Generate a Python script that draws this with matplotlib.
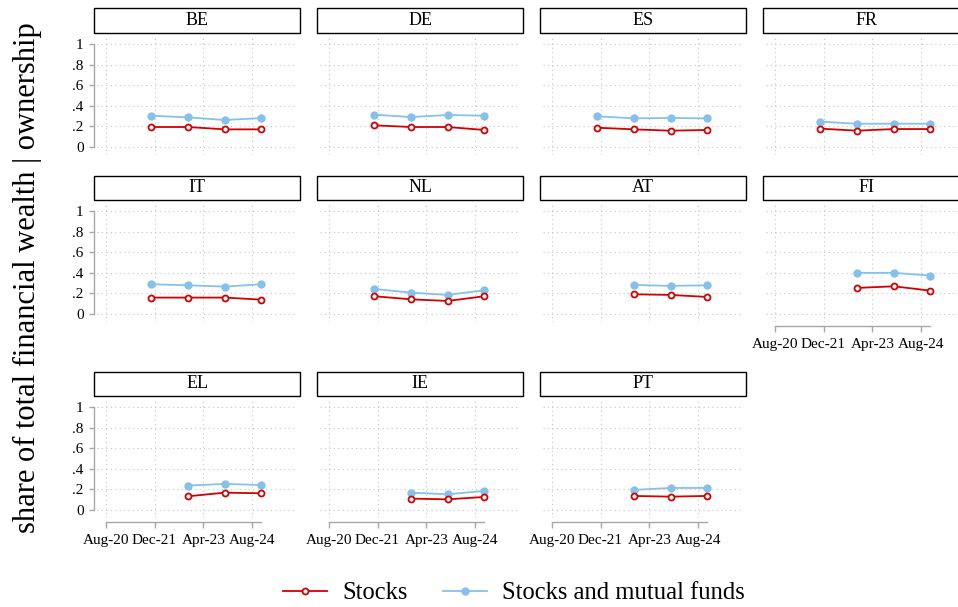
import matplotlib
matplotlib.use("Agg")
import matplotlib.pyplot as plt
from matplotlib.patches import Rectangle
from matplotlib.lines import Line2D

plt.rcParams["font.family"] = ["Liberation Serif", "DejaVu Serif"]

# Survey waves and countries
dates = ["2021-11", "2022-11", "2023-11", "2024-11"]
countries = ["BE", "DE", "ES", "FR", "IT", "NL", "AT", "FI", "EL", "IE", "PT"]

# Share of total financial wealth held in stocks
stocks = {
    "BE": [0.192, 0.192, 0.169, 0.169],
    "DE": [0.208, 0.192, 0.192, 0.163],
    "ES": [0.185, 0.169, 0.156, 0.163],
    "FR": [0.176, 0.156, 0.172, 0.172],
    "IT": [0.160, 0.160, 0.160, 0.140],
    "NL": [0.173, 0.143, 0.127, 0.173],
    "AT": [None, 0.192, 0.186, 0.166],
    "FI": [None, 0.254, 0.270, 0.228],
    "EL": [None, 0.134, 0.169, 0.163],
    "IE": [None, 0.111, 0.104, 0.127],
    "PT": [None, 0.137, 0.130, 0.137],
}

# Share held in stocks and mutual funds
stocks_funds = {
    "BE": [0.302, 0.286, 0.260, 0.279],
    "DE": [0.312, 0.289, 0.309, 0.302],
    "ES": [0.296, 0.276, 0.280, 0.276],
    "FR": [0.244, 0.224, 0.224, 0.224],
    "IT": [0.290, 0.280, 0.267, 0.290],
    "NL": [0.244, 0.208, 0.186, 0.231],
    "AT": [None, 0.283, 0.274, 0.280],
    "FI": [None, 0.401, 0.401, 0.375],
    "EL": [None, 0.238, 0.254, 0.244],
    "IE": [None, 0.169, 0.153, 0.186],
    "PT": [None, 0.196, 0.215, 0.215],
}

tick_dates = ["2020-08", "2021-12", "2023-04", "2024-08"]
tick_labels = ["Aug-20", "Dec-21", "Apr-23", "Aug-24"]
y_ticks = [0, 0.2, 0.4, 0.6, 0.8, 1.0]
y_labels = ["0", ".2", ".4", ".6", ".8", "1"]

RED = "#d20000"
BLUE = "#86c1ea"
GRAY = "#a8a8a8"


def month_index(s):
    y, m = s.split("-")
    return (int(y) - 2020) * 12 + (int(m) - 8)


W, H = 958, 607
fig = plt.figure(figsize=(W / 100, H / 100), dpi=100)

px_per_month = 3.05
col_x0 = [105.7, 328.7, 551.7, 774.7]      # pixel of Aug-20 per column
row_y0 = [146.7, 314.0, 510.0]              # pixel of y=0 per row
px_per_unit = 102.6
ylim = (-0.08, 1.07)
xlim = (-9 / px_per_month, 191 / px_per_month)

tick_x = [month_index(d) for d in tick_dates]
x_all = [month_index(d) for d in dates]

# panels that carry x-axis labels
x_labeled = {"EL", "IE", "PT", "FI"}

for i, c in enumerate(countries):
    r, col = divmod(i, 4)
    x0 = col_x0[col]
    y0 = row_y0[r]
    left = x0 + xlim[0] * px_per_month
    right = x0 + xlim[1] * px_per_month
    top = y0 - ylim[1] * px_per_unit
    bottom = y0 - ylim[0] * px_per_unit
    ax = fig.add_axes([left / W, 1 - bottom / H, (right - left) / W, (bottom - top) / H])
    ax.set_xlim(*xlim)
    ax.set_ylim(*ylim)
    ax.patch.set_alpha(0)
    for s in ax.spines.values():
        s.set_visible(False)

    ax.set_xticks(tick_x)
    ax.set_yticks(y_ticks)
    ax.grid(True, color="#c4c4c4", linestyle=(0, (1, 3.0)), linewidth=0.8)
    ax.set_axisbelow(True)

    if col == 0:
        ax.spines["left"].set_visible(True)
        ax.spines["left"].set_position(("outward", 1.7))
        ax.spines["left"].set_bounds(0, 1)
        ax.spines["left"].set_color(GRAY)
        ax.spines["left"].set_linewidth(1.0)
        ax.set_yticklabels(y_labels)
        ax.tick_params(axis="y", length=3.6, width=1.0, color=GRAY, pad=4.0, labelsize=11)
    else:
        ax.tick_params(axis="y", length=0, labelleft=False)

    xs = [x for x, v in zip(x_all, stocks[c]) if v is not None]
    if c in x_labeled:
        ax.spines["bottom"].set_visible(True)
        ax.spines["bottom"].set_position(("outward", 2.4))
        ax.spines["bottom"].set_bounds(0, max(xs))
        ax.spines["bottom"].set_color(GRAY)
        ax.spines["bottom"].set_linewidth(1.0)
        ax.set_xticklabels(tick_labels)
        ax.tick_params(axis="x", length=4.3, width=1.0, color=GRAY, pad=5.0, labelsize=11)
    else:
        ax.tick_params(axis="x", length=0, labelbottom=False)

    sv = [v for v in stocks[c] if v is not None]
    fv = [v for v in stocks_funds[c] if v is not None]
    ax.plot(xs, fv, color=BLUE, lw=1.3, marker="o", ms=5.0, mfc=BLUE, mec=BLUE, zorder=3)
    ax.plot(xs, sv, color=RED, lw=1.3, marker="o", ms=4.3, mfc="white", mec=RED, mew=1.3, zorder=4)

    # strip header
    bx0 = x0 - 11.4
    bx1 = x0 + 194.3
    by_top = top - 28.7
    by_bot = top - 4.3
    fig.add_artist(Rectangle((bx0 / W, 1 - by_bot / H), (bx1 - bx0) / W, (by_bot - by_top) / H,
                             transform=fig.transFigure, facecolor="white",
                             edgecolor="black", linewidth=1.0))
    fig.text((bx0 + bx1) / 2 / W, 1 - (by_top + by_bot) / 2 / H, c,
             ha="center", va="center", fontsize=13)

fig.text(27 / W, 1 - 277.5 / H, "share of total financial wealth | ownership",
         rotation=90, ha="center", va="center", fontsize=22)

handles = [
    Line2D([], [], color=RED, lw=1.3, marker="o", ms=4.3, mfc="white", mec=RED, mew=1.3),
    Line2D([], [], color=BLUE, lw=1.3, marker="o", ms=5.0, mfc=BLUE, mec=BLUE),
]
fig.legend(handles, ["Stocks", "Stocks and mutual funds"], loc="center",
           bbox_to_anchor=(514 / W, 1 - 593 / H), ncol=2, frameon=False,
           fontsize=17.7, handlelength=1.8, handletextpad=0.6, columnspacing=1.45)

fig.savefig("out.png", dpi=100)
